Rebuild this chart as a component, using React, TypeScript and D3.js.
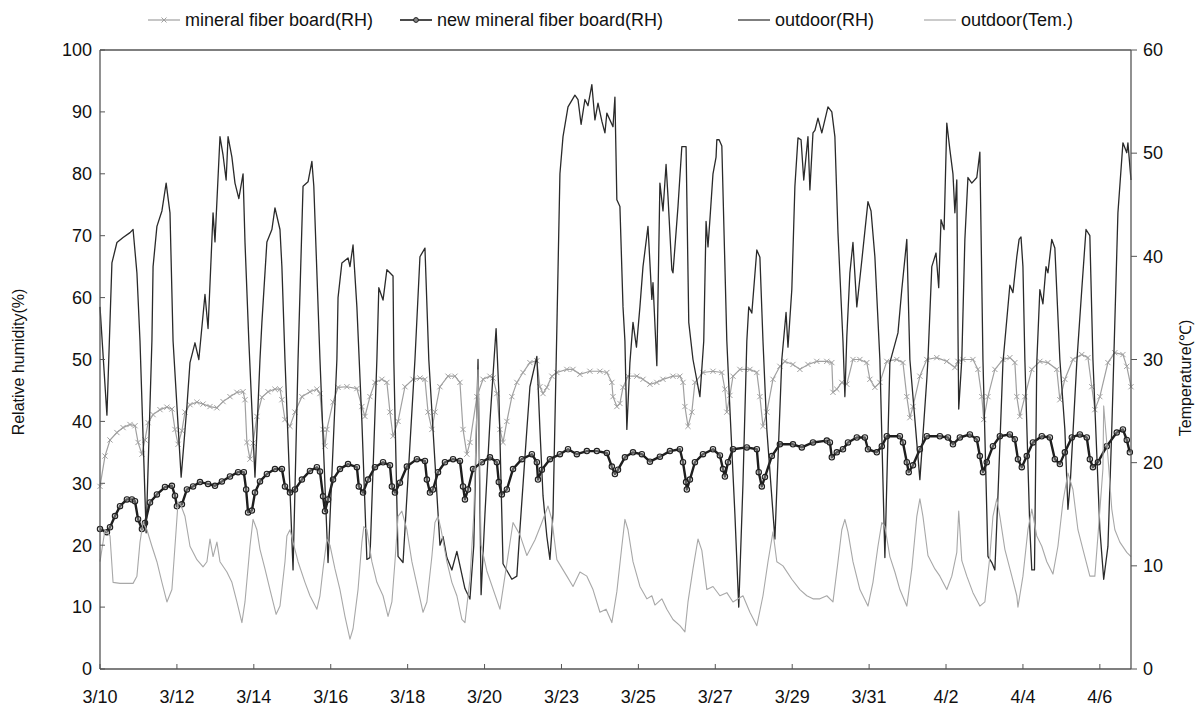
import React from 'react';
import * as d3 from 'd3';

// x is the day position on the chart's category axis (one tick label every 2 units)
const tickLabels = ['3/10', '3/12', '3/14', '3/16', '3/18', '3/20', '3/23', '3/25', '3/27', '3/29', '3/31', '4/2', '4/4', '4/6'];
const xMax = 26.81;
const rhTicks = [0, 10, 20, 30, 40, 50, 60, 70, 80, 90, 100];
const temTicks = [0, 10, 20, 30, 40, 50, 60];

const legendNames = ['mineral fiber board(RH)', 'new mineral fiber board(RH)', 'outdoor(RH)', 'outdoor(Tem.)'];

const outdoorRH: [number, number][] = [
  [0, 58.5], [0.18, 41], [0.31, 65.6], [0.44, 68.9], [0.6, 69.7], [0.78, 70.5], [0.86, 71], [0.96, 64], [1.04, 53], [1.2, 22],
  [1.35, 53], [1.38, 65], [1.48, 71.5], [1.61, 74], [1.72, 78.5], [1.82, 73.7], [1.9, 53], [2.11, 31], [2.26, 42.4], [2.34, 49.5],
  [2.47, 52.7], [2.57, 50], [2.73, 60.5], [2.81, 55], [2.94, 73.7], [2.99, 69], [3.12, 86], [3.2, 83], [3.28, 79], [3.33, 86],
  [3.43, 82.7], [3.51, 78.5], [3.61, 76], [3.72, 80], [3.77, 69], [3.87, 53], [4.03, 31], [4.16, 50], [4.21, 56], [4.34, 69],
  [4.47, 71], [4.55, 74.5], [4.68, 71], [4.73, 65], [4.81, 50], [5.02, 16], [5.15, 50], [5.28, 78], [5.41, 78.7], [5.51, 82],
  [5.56, 78], [5.72, 50], [5.93, 17.2], [6.16, 50], [6.19, 60], [6.29, 65.6], [6.45, 66.4], [6.5, 65], [6.58, 68.5], [6.68, 58.5],
  [6.81, 40], [6.94, 17.7], [7.02, 18], [7.2, 50], [7.25, 61.6], [7.36, 59.6], [7.46, 64.5], [7.62, 63.5], [7.64, 50], [7.75, 18.2],
  [7.88, 17.2], [8.19, 50], [8.32, 66.6], [8.45, 68], [8.55, 50], [8.84, 20], [8.92, 21.4], [9.02, 18], [9.15, 16], [9.28, 19],
  [9.49, 13], [9.62, 11.3], [9.72, 20], [9.83, 50], [9.91, 12], [10.01, 25], [10.14, 40], [10.3, 55], [10.37, 45], [10.48, 17],
  [10.71, 14.5], [10.84, 15], [10.92, 22.6], [11.1, 38.7], [11.18, 45.6], [11.36, 50.5], [11.44, 38.7], [11.52, 28], [11.62, 21.4], [11.7, 17.7],
  [11.78, 25], [11.88, 55], [11.96, 80], [12.04, 86], [12.17, 90.8], [12.35, 92.7], [12.43, 92], [12.51, 88], [12.61, 92], [12.69, 91],
  [12.79, 94.4], [12.87, 88.7], [12.95, 91.4], [13.05, 88.5], [13.13, 86.6], [13.18, 89.8], [13.34, 87.6], [13.39, 92.4], [13.44, 75.8], [13.52, 74.7],
  [13.6, 58.5], [13.65, 53], [13.7, 38.7], [13.78, 49.5], [13.86, 56], [13.95, 52], [14.04, 58.5], [14.12, 65], [14.25, 71.5], [14.35, 59.7],
  [14.38, 62.4], [14.48, 49], [14.56, 78.5], [14.64, 74], [14.72, 81.5], [14.77, 76.3], [14.87, 64.5], [14.9, 64], [15.03, 74.7], [15.13, 84.4],
  [15.24, 84.4], [15.31, 56], [15.42, 50], [15.6, 44], [15.7, 53], [15.76, 72.3], [15.81, 68.2], [15.86, 72.6], [15.94, 80], [16.02, 82.7],
  [16.04, 85.5], [16.1, 85.5], [16.17, 84.5], [16.3, 53], [16.38, 42], [16.51, 25], [16.61, 10], [16.72, 30], [16.82, 53], [16.87, 58.5],
  [16.95, 57.5], [17.08, 67.7], [17.16, 66.5], [17.24, 53], [17.34, 38.7], [17.55, 21], [17.73, 50], [17.84, 57.6], [17.89, 52], [17.99, 61.3],
  [18.07, 78], [18.15, 85.8], [18.23, 85.5], [18.3, 79], [18.41, 86], [18.46, 77.4], [18.54, 86.6], [18.59, 87], [18.67, 89], [18.77, 86.6],
  [18.93, 90.8], [19.03, 90], [19.11, 86], [19.19, 70.5], [19.32, 53], [19.37, 44], [19.42, 53.7], [19.5, 64], [19.58, 68.9], [19.68, 58.5],
  [19.81, 66], [19.97, 75.5], [20.05, 74], [20.15, 66.6], [20.28, 50], [20.41, 18], [20.54, 49.5], [20.75, 54.3], [20.85, 61.3], [20.98, 69.4],
  [21.06, 50], [21.32, 30.6], [21.5, 46.8], [21.53, 50], [21.63, 65], [21.74, 67.2], [21.81, 61.6], [21.87, 72.6], [21.95, 71], [22.02, 88.2],
  [22.1, 83.9], [22.18, 80], [22.23, 73.7], [22.28, 79], [22.31, 55], [22.33, 42], [22.41, 50], [22.49, 69.4], [22.57, 79.4], [22.67, 78.5],
  [22.8, 79.4], [22.88, 83.5], [22.96, 50], [23.09, 18.2], [23.19, 17.2], [23.27, 16], [23.35, 28], [23.48, 49.5], [23.66, 62], [23.74, 60.8],
  [23.84, 66.6], [23.9, 69.4], [23.95, 69.8], [24, 65], [24.05, 50], [24.18, 22.6], [24.23, 16], [24.3, 16], [24.36, 49.5], [24.44, 61.3],
  [24.52, 59], [24.6, 65], [24.65, 64], [24.75, 69.4], [24.83, 68], [24.96, 50], [25.09, 38.7], [25.17, 25.8], [25.23, 30], [25.4, 49.5],
  [25.53, 61.3], [25.64, 71], [25.74, 70], [25.82, 50], [26, 22.6], [26.1, 14.5], [26.21, 19.8], [26.31, 38.7], [26.36, 49.5], [26.47, 73.7],
  [26.6, 85], [26.7, 83.4], [26.73, 85], [26.81, 79],
];

const outdoorTem: [number, number][] = [
  [0, 10.4], [0.13, 13.5], [0.26, 12.9], [0.34, 8.4], [0.52, 8.3], [0.86, 8.3], [0.96, 9], [1.04, 12.3], [1.12, 14.2], [1.22, 13.5],
  [1.35, 11.9], [1.48, 10.4], [1.61, 8.4], [1.74, 6.5], [1.87, 7.7], [1.98, 13.5], [2.03, 16.2], [2.11, 15.8], [2.21, 14.8], [2.34, 11.9],
  [2.52, 10.6], [2.68, 9.9], [2.78, 10.4], [2.86, 12.6], [2.94, 10.9], [3.04, 12.3], [3.12, 10.4], [3.3, 9.4], [3.43, 8.4], [3.56, 6.5],
  [3.69, 4.5], [3.77, 6.5], [3.9, 11.9], [3.98, 14.5], [4.08, 13.5], [4.16, 11.6], [4.29, 9.7], [4.42, 7.7], [4.58, 5.3], [4.68, 6.1],
  [4.81, 10.4], [4.86, 12.9], [4.94, 13.5], [5.02, 12.3], [5.15, 10.4], [5.33, 8.4], [5.46, 7.1], [5.64, 5.8], [5.72, 7.1], [5.8, 9.7],
  [5.9, 12.6], [5.98, 12], [6.11, 9.7], [6.24, 7.7], [6.37, 5.1], [6.5, 2.9], [6.58, 3.9], [6.71, 7.7], [6.81, 12.3], [6.86, 13.8],
  [6.94, 13.5], [7.07, 10.4], [7.2, 8.4], [7.36, 7.1], [7.49, 5.1], [7.59, 6.5], [7.67, 10.4], [7.75, 14.8], [7.85, 15.3], [7.98, 13.5],
  [8.11, 10.4], [8.27, 7.7], [8.4, 5.5], [8.5, 6.5], [8.63, 10.9], [8.71, 14.2], [8.79, 14.8], [8.87, 13.5], [9.02, 10.4], [9.15, 8.4],
  [9.28, 7.1], [9.41, 4.8], [9.49, 4.5], [9.62, 8.7], [9.72, 15], [9.83, 29], [9.91, 12], [10.06, 9.5], [10.4, 5.8], [10.53, 9],
  [10.74, 14.2], [10.92, 13], [11.1, 11], [11.31, 12.5], [11.47, 14], [11.65, 15.8], [11.75, 14.5], [11.88, 10.6], [12.14, 9], [12.3, 8],
  [12.48, 9.4], [12.66, 9], [12.82, 7.7], [13, 5.5], [13.16, 5.8], [13.31, 4.5], [13.44, 7.5], [13.57, 11.9], [13.65, 14.5], [13.73, 13.5],
  [13.86, 10.4], [14.04, 8], [14.22, 6.8], [14.35, 7.1], [14.43, 6.2], [14.61, 6.8], [14.74, 5.8], [14.9, 4.8], [15.08, 4.2], [15.21, 3.6],
  [15.29, 6.5], [15.42, 9.7], [15.55, 12.6], [15.65, 11.5], [15.78, 7.7], [15.94, 8], [16.12, 7.1], [16.3, 7.4], [16.46, 6.5], [16.72, 7.1],
  [16.9, 5.5], [17.08, 4.2], [17.24, 7.1], [17.37, 10.4], [17.5, 13.3], [17.6, 10.4], [17.76, 10], [17.99, 8.7], [18.2, 7.7], [18.38, 7.1],
  [18.54, 6.8], [18.72, 6.8], [18.9, 7.1], [19.06, 6.5], [19.19, 10.4], [19.29, 13.5], [19.37, 14.5], [19.45, 13.3], [19.58, 10.4], [19.76, 7.7],
  [19.97, 6.1], [20.1, 8.4], [20.23, 11.9], [20.33, 14.2], [20.41, 13.8], [20.54, 10.9], [20.67, 9.4], [20.8, 7.7], [20.98, 6.1], [21.11, 9.7],
  [21.24, 14.8], [21.32, 16.5], [21.4, 14.8], [21.53, 11], [21.71, 9.7], [21.84, 9], [22.02, 7.7], [22.15, 9], [22.28, 11.3], [22.33, 15.3],
  [22.41, 10.5], [22.54, 9], [22.7, 7.4], [22.88, 6.1], [23.01, 6.5], [23.14, 10.9], [23.22, 14.8], [23.32, 16.5], [23.4, 14.8], [23.53, 11.6],
  [23.71, 9], [23.84, 7.1], [23.87, 6], [24, 9], [24.13, 13.5], [24.23, 15.5], [24.36, 12.9], [24.49, 11.9], [24.62, 10.4], [24.78, 9.2],
  [24.91, 11.9], [25.04, 16.2], [25.17, 19], [25.3, 17.4], [25.43, 13.5], [25.56, 11.6], [25.74, 9], [25.87, 9], [25.95, 12.9], [26.08, 19.4],
  [26.1, 25.5], [26.21, 20.6], [26.31, 15.5], [26.39, 13.5], [26.52, 12.3], [26.7, 11.3], [26.81, 10.9],
];

const mineralBoard: [number, number][] = [
  [0, 29.5], [0.13, 34.4], [0.26, 37], [0.44, 38.2], [0.6, 39], [0.78, 39.5], [0.91, 39.3], [0.99, 36.6], [1.09, 34.7], [1.17, 37],
  [1.25, 39.8], [1.38, 41.1], [1.56, 41.9], [1.74, 42.3], [1.87, 42], [1.95, 38.7], [2.03, 36.3], [2.13, 38.5], [2.21, 41.5], [2.34, 42.7],
  [2.52, 43.1], [2.68, 42.8], [2.86, 42.4], [3.04, 42.2], [3.2, 43.2], [3.38, 44], [3.56, 44.7], [3.72, 44.8], [3.77, 43.5], [3.82, 36.6],
  [3.9, 33.9], [3.98, 36.5], [4.08, 40.8], [4.21, 43.9], [4.37, 44.8], [4.55, 45.2], [4.68, 45.2], [4.73, 43.5], [4.81, 40.3], [4.94, 39.2],
  [5.07, 41.5], [5.25, 44], [5.46, 44.8], [5.64, 45.2], [5.72, 44.5], [5.8, 38.7], [5.85, 36], [5.9, 38.7], [6.06, 43.1], [6.19, 45.5],
  [6.42, 45.6], [6.68, 45.3], [6.81, 42.4], [6.89, 40.8], [7.02, 44], [7.15, 46.3], [7.33, 46.8], [7.46, 46.3], [7.54, 41.5], [7.62, 37.6],
  [7.75, 40], [7.93, 45.6], [8.14, 46.8], [8.32, 47], [8.45, 46.8], [8.53, 41.5], [8.63, 38.7], [8.71, 41.5], [8.84, 45.6], [9.05, 47.3],
  [9.23, 47.3], [9.36, 46.3], [9.44, 38.7], [9.54, 34.7], [9.62, 36.6], [9.8, 44], [9.96, 46.8], [10.14, 47.3], [10.22, 47], [10.32, 44.5],
  [10.4, 38.7], [10.48, 36.6], [10.58, 40], [10.71, 44], [10.84, 46.3], [11, 47.9], [11.18, 49.5], [11.36, 49.8], [11.44, 45.6], [11.52, 44.5],
  [11.62, 45.5], [11.75, 47.3], [11.88, 47.9], [12.14, 48.4], [12.3, 48.4], [12.48, 47.6], [12.74, 48.1], [13, 48.1], [13.18, 47.9], [13.31, 46.3],
  [13.34, 44], [13.44, 42.4], [13.52, 42.9], [13.6, 45.5], [13.73, 47.3], [13.96, 47.3], [14.12, 46.8], [14.3, 46], [14.48, 46.3], [14.64, 46.8],
  [14.9, 47.3], [15.08, 47.3], [15.16, 46.3], [15.21, 42.4], [15.29, 39.2], [15.39, 41.5], [15.47, 46.3], [15.68, 47.9], [15.94, 48.1], [16.17, 47.9],
  [16.25, 45.2], [16.3, 41.5], [16.38, 44.2], [16.46, 47.3], [16.64, 48.4], [16.9, 48.4], [17.08, 47.9], [17.16, 44], [17.24, 39.2], [17.34, 41.5],
  [17.5, 46.8], [17.68, 48.9], [17.81, 49.7], [18.02, 49.2], [18.2, 48.4], [18.41, 49.2], [18.64, 49.7], [18.9, 49.7], [19.03, 49.5], [19.06, 44.7],
  [19.16, 45.2], [19.29, 46.3], [19.42, 46], [19.58, 50], [19.76, 50], [19.94, 49.5], [20.02, 46.8], [20.15, 45.5], [20.28, 46.3], [20.46, 49.7],
  [20.72, 50], [20.88, 49.5], [20.98, 44], [21.06, 40.6], [21.14, 42.4], [21.32, 47.3], [21.5, 50], [21.76, 50.3], [22.02, 49.7], [22.23, 48.7],
  [22.31, 49.7], [22.44, 50], [22.7, 50], [22.83, 48.4], [22.93, 44], [22.98, 40.3], [23.09, 44], [23.27, 48.4], [23.48, 50], [23.66, 50.3],
  [23.79, 49.5], [23.84, 44], [23.92, 40.8], [24.05, 44], [24.23, 48.4], [24.44, 49.7], [24.65, 49.5], [24.88, 48.4], [24.96, 43.5], [25.09, 46.8],
  [25.3, 50], [25.53, 50.8], [25.69, 50.3], [25.79, 45.6], [25.87, 41.9], [26, 44], [26.21, 49.5], [26.39, 51.1], [26.6, 50.8], [26.7, 48.9],
  [26.81, 45.6],
];

const newMineralBoard: [number, number][] = [
  [0, 22.6], [0.18, 22.1], [0.26, 22.9], [0.39, 24.7], [0.52, 26.3], [0.7, 27.4], [0.83, 27.4], [0.91, 27.1], [0.99, 24.2], [1.09, 22.6],
  [1.17, 23.6], [1.3, 26.9], [1.48, 28.2], [1.69, 29.4], [1.87, 29.6], [1.95, 28], [2, 26.3], [2.13, 26.6], [2.26, 29], [2.42, 29.5],
  [2.6, 30.2], [2.81, 29.9], [2.99, 29.6], [3.17, 30.3], [3.38, 31.1], [3.59, 31.8], [3.74, 31.8], [3.8, 29], [3.85, 25.3], [3.95, 25.6],
  [4.03, 28.5], [4.16, 30.3], [4.34, 31.5], [4.55, 32.3], [4.73, 32.3], [4.81, 29.5], [4.94, 28.5], [5.07, 29], [5.25, 30.6], [5.46, 32],
  [5.64, 32.6], [5.72, 31.9], [5.8, 27.9], [5.85, 25.5], [5.93, 27.4], [6.06, 30.6], [6.24, 32.3], [6.45, 33.1], [6.68, 32.6], [6.73, 29.5],
  [6.84, 28.5], [6.97, 30.6], [7.15, 32.6], [7.36, 33.4], [7.54, 32.9], [7.59, 29.5], [7.67, 28.5], [7.8, 30.1], [7.98, 32.7], [8.24, 33.9],
  [8.45, 33.6], [8.5, 30.6], [8.58, 28.5], [8.66, 29], [8.79, 31.8], [8.97, 33.4], [9.18, 33.9], [9.36, 33.6], [9.44, 29.5], [9.49, 27.4],
  [9.57, 29], [9.7, 32.3], [9.93, 33.4], [10.14, 34.2], [10.32, 33.4], [10.37, 30.2], [10.45, 28.2], [10.58, 29], [10.74, 32.3], [10.97, 33.9],
  [11.23, 34.7], [11.36, 33.4], [11.39, 30.6], [11.49, 32.2], [11.7, 33.9], [11.96, 34.7], [12.17, 35.5], [12.4, 34.7], [12.66, 35.2], [12.92, 35.2],
  [13.18, 34.9], [13.31, 32.7], [13.39, 31.5], [13.47, 32.2], [13.65, 34.2], [13.86, 35], [14.09, 34.7], [14.3, 33.5], [14.56, 34.3], [14.82, 35.2],
  [15.08, 35.5], [15.16, 33.4], [15.24, 30.2], [15.26, 29], [15.34, 30.6], [15.47, 33.4], [15.68, 34.7], [15.94, 35.5], [16.12, 34.5], [16.2, 32.3],
  [16.25, 31.1], [16.33, 33.4], [16.46, 35.5], [16.82, 35.8], [17.08, 35.5], [17.13, 31.8], [17.21, 29.5], [17.29, 31], [17.47, 34.4], [17.68, 36.3],
  [18.02, 36.3], [18.25, 35.8], [18.54, 36.6], [18.9, 36.9], [18.98, 36.6], [19.03, 34.2], [19.16, 35], [19.32, 35.5], [19.45, 36.6], [19.68, 37.4],
  [19.89, 37.4], [19.97, 35.5], [20.2, 35], [20.33, 36], [20.46, 37.6], [20.8, 37.6], [20.88, 36.6], [20.98, 33.4], [21.03, 31.8], [21.14, 32.9],
  [21.32, 35.5], [21.5, 37.6], [21.84, 37.6], [22.05, 37.4], [22.18, 36.3], [22.36, 37.4], [22.62, 37.9], [22.8, 37.1], [22.88, 34.4], [22.96, 31.8],
  [23.06, 33.4], [23.22, 36], [23.4, 37.6], [23.66, 37.9], [23.79, 37.1], [23.87, 33.9], [23.97, 32.6], [24.1, 34.4], [24.26, 36.6], [24.49, 37.6],
  [24.7, 37.4], [24.83, 33.9], [24.96, 33.1], [25.09, 35], [25.27, 37.4], [25.48, 37.9], [25.66, 37.4], [25.74, 33.9], [25.82, 32.6], [25.95, 33.4],
  [26.18, 36], [26.44, 38.2], [26.6, 38.7], [26.7, 37], [26.78, 35],
];

const W = 1195;
const H = 706;
const left = 100;
const right = 1131;
const top = 50;
const bottom = 669;

const axisColor = '#555';
const rhColor = '#2a2a2a';
const temColor = '#a8a8a8';
const mineralColor = '#a0a0a0';
const newColor = '#1e1e1e';
const font = 'Arial, "Liberation Sans", sans-serif';

const cross = (x: number, y: number, s: number) => `M${x - s},${y - s}L${x + s},${y + s}M${x - s},${y + s}L${x + s},${y - s}`;

export default function App() {
  const x = d3.scaleLinear().domain([0, xMax]).range([left, right]);
  const yRH = d3.scaleLinear().domain([0, 100]).range([bottom, top]);
  const yTem = d3.scaleLinear().domain([0, 60]).range([bottom, top]);

  const rhLine = d3.line<[number, number]>().x(d => x(d[0])).y(d => yRH(d[1]));
  const temLine = d3.line<[number, number]>().x(d => x(d[0])).y(d => yTem(d[1]));

  const legendX = [148, 400, 738, 924];
  const legendY = 20;

  return (
    <svg width={W} height={H} style={{ position: 'absolute', left: 0, top: 0, background: '#fff' }} fontFamily={font}>
      {/* mineral fiber board */}
      <path d={rhLine(mineralBoard) || ''} fill="none" stroke={mineralColor} strokeWidth={1.2} />
      <path d={mineralBoard.map(d => cross(x(d[0]), yRH(d[1]), 2.6)).join('')} stroke={mineralColor} strokeWidth={1} fill="none" />

      {/* new mineral fiber board */}
      <path d={rhLine(newMineralBoard) || ''} fill="none" stroke={newColor} strokeWidth={2.4} strokeLinejoin="round" />
      {newMineralBoard.map((d, i) => (
        <circle key={i} cx={x(d[0])} cy={yRH(d[1])} r={2.7} fill="#bbb" fillOpacity={0.4} stroke={newColor} strokeWidth={1.1} />
      ))}

      {/* outdoor */}
      <path d={rhLine(outdoorRH) || ''} fill="none" stroke={rhColor} strokeWidth={1.3} strokeLinejoin="round" />
      <path d={temLine(outdoorTem) || ''} fill="none" stroke={temColor} strokeWidth={1.1} strokeLinejoin="round" />

      {/* frame and axes */}
      <line x1={left} x2={right} y1={top} y2={top} stroke={axisColor} strokeWidth={1.3} />
      <line x1={left} x2={left} y1={top} y2={bottom} stroke={axisColor} strokeWidth={1.3} />
      <line x1={right} x2={right} y1={top} y2={bottom} stroke={axisColor} strokeWidth={1.3} />
      <line x1={left} x2={right} y1={bottom} y2={bottom} stroke={axisColor} strokeWidth={1.3} />

      {rhTicks.map(t => (
        <g key={'l' + t}>
          <line x1={left} x2={left + 5} y1={yRH(t)} y2={yRH(t)} stroke={axisColor} strokeWidth={1} />
          <text x={left - 8} y={yRH(t)} dy="0.35em" textAnchor="end" fontSize={18} fill="#111">{t}</text>
        </g>
      ))}
      {temTicks.map(t => (
        <g key={'r' + t}>
          <line x1={right} x2={right + 6} y1={yTem(t)} y2={yTem(t)} stroke={axisColor} strokeWidth={1} />
          <text x={right + 12} y={yTem(t)} dy="0.35em" textAnchor="start" fontSize={18} fill="#111">{t}</text>
        </g>
      ))}
      {tickLabels.map((lab, i) => (
        <g key={lab}>
          <line x1={x(i * 2)} x2={x(i * 2)} y1={bottom} y2={bottom - 5} stroke={axisColor} strokeWidth={1} />
          <text x={x(i * 2)} y={703} textAnchor="middle" fontSize={18} fill="#111">{lab}</text>
        </g>
      ))}

      <text transform={`translate(24,362) rotate(-90)`} textAnchor="middle" fontSize={16} fill="#111">Relative humidity(%)</text>
      <text transform={`translate(1191,378) rotate(-90)`} textAnchor="middle" fontSize={16} fill="#111">Temperature(℃)</text>

      {/* legend */}
      {legendNames.map((name, i) => {
        const lx = legendX[i];
        const color = [mineralColor, newColor, rhColor, temColor][i];
        return (
          <g key={name}>
            <line x1={lx} x2={lx + 32} y1={legendY} y2={legendY} stroke={color} strokeWidth={i === 1 ? 1.6 : 1.2} />
            {i === 0 && <path d={cross(lx + 16, legendY, 2.5)} stroke={color} strokeWidth={1} />}
            {i === 1 && <circle cx={lx + 16} cy={legendY} r={2.4} fill="#888" stroke={color} strokeWidth={1} />}
            <text x={lx + 37} y={legendY} dy="0.35em" fontSize={18} fill="#111">{name}</text>
          </g>
        );
      })}
    </svg>
  );
}
